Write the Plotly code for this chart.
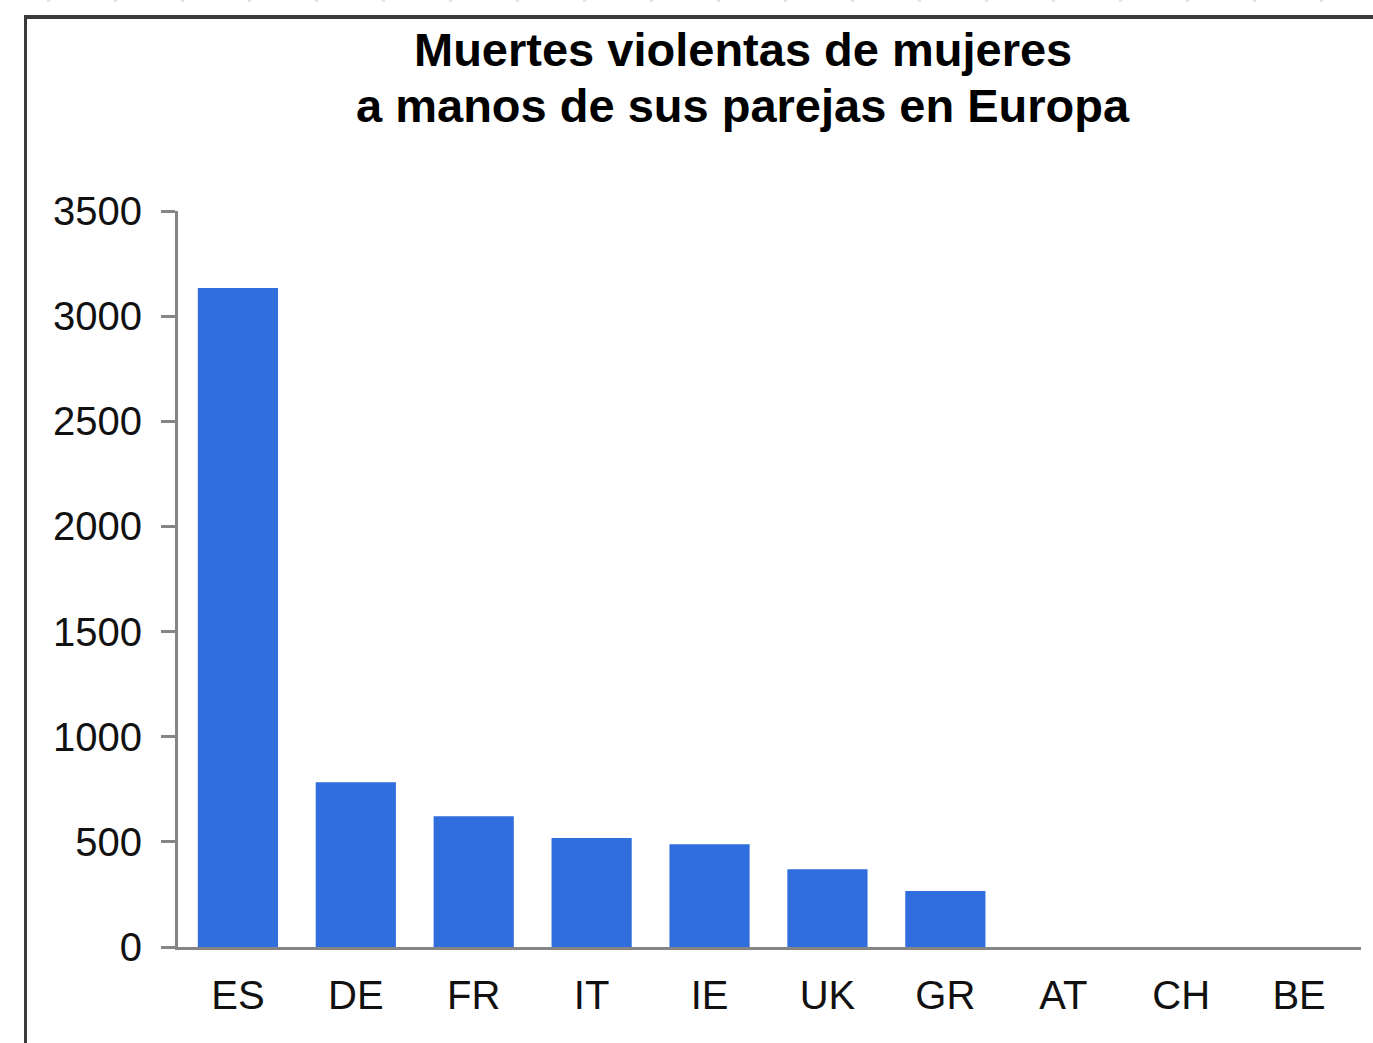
import plotly.graph_objects as go

categories = ["ES", "DE", "FR", "IT", "IE", "UK", "GR", "AT", "CH", "BE"]
values = [3134, 783, 622, 518, 489, 370, 266, 0, 0, 0]
y_ticks = [0, 500, 1000, 1500, 2000, 2500, 3000, 3500]
title_lines = ["Muertes violentas de mujeres", "a manos de sus parejas en Europa"]

W, H = 1373, 1043
L, R, T, B = 178, 1361, 211, 947  # plot area in pixels


def px(x):
    return (x - L) / (R - L)


def py(y):
    return (B - y) / (B - T)


fig = go.Figure(
    go.Bar(
        x=categories,
        y=values,
        marker=dict(color="#2f6edc", line=dict(width=0)),
        width=0.68,
    )
)

fig.update_layout(
    width=W,
    height=H,
    paper_bgcolor="white",
    plot_bgcolor="white",
    margin=dict(l=L, r=W - R, t=T, b=H - B, pad=0),
    showlegend=False,
    font=dict(family="Liberation Sans, Arial, sans-serif", size=40, color="#111111"),
)

for line_text, top in zip(title_lines, [21, 77]):
    fig.add_annotation(
        text=line_text,
        xref="paper", yref="paper",
        x=px(743), y=py(top),
        xanchor="center", yanchor="top",
        showarrow=False,
        font=dict(family="Liberation Sans, Arial, sans-serif", size=47, color="#000000", weight="bold"),
    )

fig.update_yaxes(
    range=[0, 3500],
    tickvals=y_ticks,
    ticktext=[str(v) for v in y_ticks],
    showgrid=False,
    zeroline=False,
    showline=True,
    linecolor="#858585",
    linewidth=3,
    ticks="outside",
    ticklen=14,
    tickwidth=3,
    tickcolor="#858585",
    ticklabelstandoff=11,
    tickfont=dict(size=40, color="#111111"),
    fixedrange=True,
)

fig.update_xaxes(
    range=[-0.508, 9.525],
    showgrid=False,
    zeroline=False,
    showline=True,
    linecolor="#858585",
    linewidth=3,
    ticks="",
    ticklabelstandoff=11,
    tickfont=dict(size=40, color="#111111"),
    fixedrange=True,
)

# frame lines around the chart
fig.add_shape(type="line", xref="paper", yref="paper",
              x0=px(24), x1=px(W), y0=py(17), y1=py(17),
              line=dict(color="#3a3a3a", width=4))
fig.add_shape(type="line", xref="paper", yref="paper",
              x0=px(25.5), x1=px(25.5), y0=py(15), y1=py(H),
              line=dict(color="#3a3a3a", width=3))
fig.add_shape(type="line", xref="paper", yref="paper",
              x0=px(47), x1=px(W), y0=py(1), y1=py(1),
              line=dict(color="#e4e4e4", width=2, dash="3px,64px"))

fig.write_html(
    "out.html",
    config={"displayModeBar": False},
    post_script="document.body.style.margin='0';",
)
